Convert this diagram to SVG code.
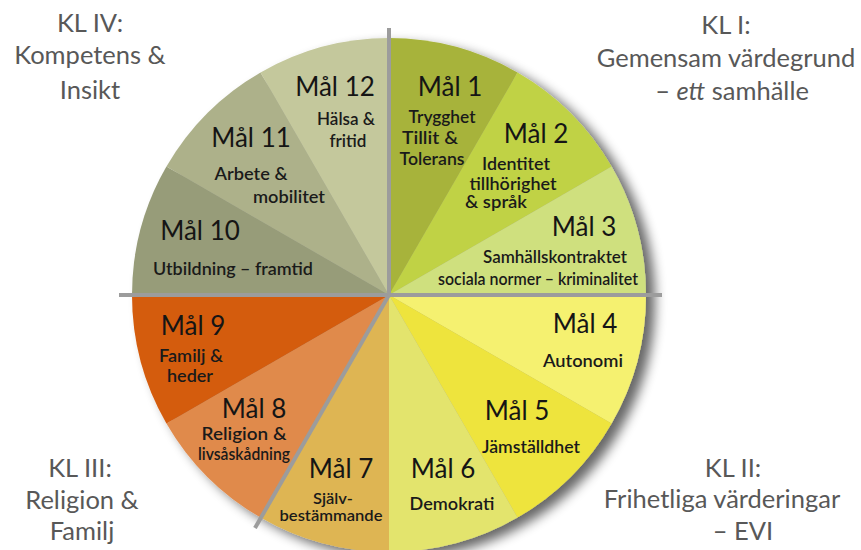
<svg xmlns="http://www.w3.org/2000/svg" width="861" height="550" viewBox="0 0 861 550">
<style>
.kl{font-family:Lato,"Liberation Sans",sans-serif;font-size:25.5px;fill:#585858;text-anchor:middle}
.mal{font-family:Lato,"Liberation Sans",sans-serif;font-size:26px;fill:#151515;text-anchor:middle}
.sub{font-family:Lato,"Liberation Sans",sans-serif;font-size:16.5px;font-weight:600;fill:#1a1a1a;text-anchor:middle}
.sm{font-size:15px}
.axis{stroke:#9c9c9c;stroke-width:4;fill:none}
</style>
<defs>
<filter id="shadow" x="-10%" y="-10%" width="125%" height="125%">
<feGaussianBlur in="SourceAlpha" stdDeviation="6"/>
<feOffset dx="9" dy="6" result="b"/>
<feComponentTransfer><feFuncA type="linear" slope="0.6"/></feComponentTransfer>
<feMerge><feMergeNode/><feMergeNode in="SourceGraphic"/></feMerge>
</filter>
</defs>
<rect width="861" height="550" fill="#ffffff"/>
<g id="pie" filter="url(#shadow)">
<g id="mal1"><path d="M389 295 L389 38 A257 257 0 0 1 517.5 72.43 Z" fill="#a7b33b"/></g>
<g id="mal2"><path d="M389 295 L517.5 72.43 A257 257 0 0 1 611.57 166.5 Z" fill="#c0d244"/></g>
<g id="mal3"><path d="M389 295 L611.57 166.5 A257 257 0 0 1 646 295 Z" fill="#cfe07e"/></g>
<g id="mal4"><path d="M389 295 L646 295 A257 257 0 0 1 611.57 423.5 Z" fill="#f5f16f"/></g>
<g id="mal5"><path d="M389 295 L611.57 423.5 A257 257 0 0 1 517.5 517.57 Z" fill="#eee43d"/></g>
<g id="mal6"><path d="M389 295 L517.5 517.57 A257 257 0 0 1 389 552 Z" fill="#e3e46d"/></g>
<g id="mal7"><path d="M389 295 L389 552 A257 257 0 0 1 260.5 517.57 Z" fill="#deb553"/></g>
<g id="mal8"><path d="M389 295 L260.5 517.57 A257 257 0 0 1 166.43 423.5 Z" fill="#e08a4b"/></g>
<g id="mal9"><path d="M389 295 L166.43 423.5 A257 257 0 0 1 132 295 Z" fill="#d45b0c"/></g>
<g id="mal10"><path d="M389 295 L132 295 A257 257 0 0 1 166.43 166.5 Z" fill="#979c79"/></g>
<g id="mal11"><path d="M389 295 L166.43 166.5 A257 257 0 0 1 260.5 72.43 Z" fill="#adb18a"/></g>
<g id="mal12"><path d="M389 295 L260.5 72.43 A257 257 0 0 1 389 38 Z" fill="#c4c89c"/></g>
</g>
<g id="connectors">
<line class="axis" x1="119" y1="295" x2="662" y2="295"/>
<line class="axis" x1="389" y1="28" x2="389" y2="295"/>
<line class="axis" x1="389" y1="295" x2="255" y2="528"/>
</g>
<g id="labels-mal1"><text class="mal" x="450" y="96">Mål 1</text><text class="sub" x="442" y="123" textLength="67" lengthAdjust="spacingAndGlyphs">Trygghet</text><text class="sub" x="430" y="144" textLength="56" lengthAdjust="spacingAndGlyphs">Tillit &amp;</text><text class="sub" x="432" y="165" textLength="65" lengthAdjust="spacingAndGlyphs">Tolerans</text></g>
<g id="labels-mal2"><text class="mal" x="536" y="143">Mål 2</text><text class="sub" x="516" y="170" textLength="68" lengthAdjust="spacingAndGlyphs">Identitet</text><text class="sub" x="513" y="190" textLength="87" lengthAdjust="spacingAndGlyphs">tillhörighet</text><text class="sub" x="496" y="208" textLength="62" lengthAdjust="spacingAndGlyphs">&amp; språk</text></g>
<g id="labels-mal3"><text class="mal" x="584" y="236">Mål 3</text><text class="sub" x="555" y="263" textLength="144" lengthAdjust="spacingAndGlyphs">Samhällskontraktet</text><text class="sub" x="538" y="285" textLength="200" lengthAdjust="spacingAndGlyphs">sociala normer – kriminalitet</text></g>
<g id="labels-mal4"><text class="mal" x="585" y="333">Mål 4</text><text class="sub" x="583" y="367" textLength="80" lengthAdjust="spacingAndGlyphs">Autonomi</text></g>
<g id="labels-mal5"><text class="mal" x="517" y="420">Mål 5</text><text class="sub" x="531" y="453" textLength="98" lengthAdjust="spacingAndGlyphs">Jämställdhet</text></g>
<g id="labels-mal6"><text class="mal" x="443" y="478">Mål 6</text><text class="sub" x="452" y="510" textLength="85" lengthAdjust="spacingAndGlyphs">Demokrati</text></g>
<g id="labels-mal7"><text class="mal" x="341" y="478">Mål 7</text><text class="sub sm" x="333" y="504" textLength="40" lengthAdjust="spacingAndGlyphs">Själv-</text><text class="sub sm" x="331" y="521" textLength="103" lengthAdjust="spacingAndGlyphs">bestämmande</text></g>
<g id="labels-mal8"><text class="mal" x="254" y="418">Mål 8</text><text class="sub" x="244" y="440" textLength="85" lengthAdjust="spacingAndGlyphs">Religion &amp;</text><text class="sub" x="244" y="460" textLength="92" lengthAdjust="spacingAndGlyphs">livsåskådning</text></g>
<g id="labels-mal9"><text class="mal" x="193" y="335">Mål 9</text><text class="sub" x="191" y="362" textLength="64" lengthAdjust="spacingAndGlyphs">Familj &amp;</text><text class="sub" x="190" y="382" textLength="46" lengthAdjust="spacingAndGlyphs">heder</text></g>
<g id="labels-mal10"><text class="mal" x="200" y="240">Mål 10</text><text class="sub" x="233" y="275" textLength="160" lengthAdjust="spacingAndGlyphs">Utbildning – framtid</text></g>
<g id="labels-mal11"><text class="mal" x="251" y="147">Mål 11</text><text class="sub" x="251" y="180" textLength="73" lengthAdjust="spacingAndGlyphs">Arbete &amp;</text><text class="sub" x="289" y="203" textLength="72" lengthAdjust="spacingAndGlyphs">mobilitet</text></g>
<g id="labels-mal12"><text class="mal" x="335" y="96">Mål 12</text><text class="sub" x="346" y="125" textLength="58" lengthAdjust="spacingAndGlyphs">Hälsa &amp;</text><text class="sub" x="348" y="147" textLength="37" lengthAdjust="spacingAndGlyphs">fritid</text></g>
<g id="kl1"><text class="kl" x="726" y="34">KL I:</text><text class="kl" x="726" y="67">Gemensam värdegrund</text><text class="kl" x="732" y="100">– <tspan font-style="italic">ett</tspan> samhälle</text></g>
<g id="kl2"><text class="kl" x="733" y="477">KL II:</text><text class="kl" x="722" y="508">Frihetliga värderingar</text><text class="kl" x="743" y="540">– EVI</text></g>
<g id="kl3"><text class="kl" x="80" y="477">KL III:</text><text class="kl" x="82" y="509">Religion &amp;</text><text class="kl" x="82" y="540">Familj</text></g>
<g id="kl4"><text class="kl" x="90" y="32">KL IV:</text><text class="kl" x="90" y="64">Kompetens &amp;</text><text class="kl" x="90" y="99">Insikt</text></g>
</svg>
